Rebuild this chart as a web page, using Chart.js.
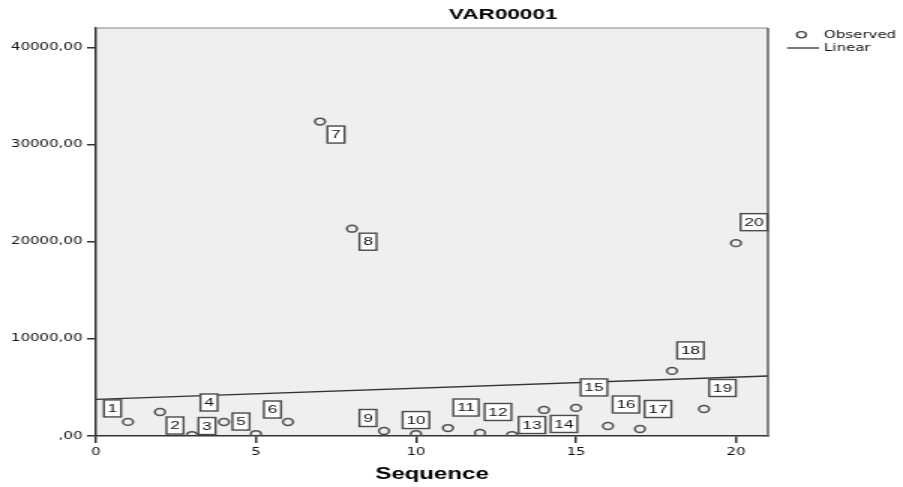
<!DOCTYPE html>
<html>
<head>
<meta charset="utf-8">
<script src="https://cdn.jsdelivr.net/npm/chart.js@4/dist/chart.umd.min.js"></script>
<style>
  html, body { margin: 0; padding: 0; background: #fff; overflow: hidden; }
  /* SPSS export is stretched horizontally, so draw narrow and scale up */
  #wrap { width: 602px; height: 487px; transform: scaleX(1.5); transform-origin: 0 0; }
</style>
</head>
<body>
<div id="wrap"><canvas id="VARCHART"></canvas></div>
<script>
var sequence = [1, 2, 3, 4, 5, 6, 7, 8, 9, 10, 11, 12, 13, 14, 15, 16, 17, 18, 19, 20];
var observed = [1450, 2470, 100, 1440, 200, 1440, 32370, 21340, 515, 200, 820, 310, 100, 2680, 2890, 1030, 720, 6700, 2780, 19850];
var caseLabels = ['1', '2', '3', '4', '5', '6', '7', '8', '9', '10', '11', '12', '13', '14', '15', '16', '17', '18', '19', '20'];
var xTicks = [0, 5, 10, 15, 20];
var yTicks = [0, 10000, 20000, 30000, 40000];

// where each case label box sits relative to its point (screen px)
var labelOffsets = [
    [-15.5, -13.5], [15, 13.5], [15, -9], [-15, -19.5], [-15, -12.5],
    [-15.5, -12.5], [16, 13], [16, 13], [-16, -13], [0, -14],
    [18, -20.5], [18, -21], [20, -10], [20, 14], [18, -20.5],
    [18, -21.5], [18, -20], [18.5, -20.5], [18.5, -21], [18, -21]
];
var STRETCH = 1.5;

// least squares line for the "Linear" model
var n = sequence.length, mx = 0, my = 0;
for (var i = 0; i < n; i++) { mx += sequence[i]; my += observed[i]; }
mx /= n; my /= n;
var sxy = 0, sxx = 0;
for (var i = 0; i < n; i++) { sxy += (sequence[i] - mx) * (observed[i] - my); sxx += (sequence[i] - mx) * (sequence[i] - mx); }
var slope = sxy / sxx, intercept = my - slope * mx;
var xMax = 21;

var points = sequence.map(function (s, i) { return { x: s, y: observed[i] }; });
var fitLine = [{ x: 0, y: intercept }, { x: xMax, y: intercept + slope * xMax }];

var spssDecor = {
    id: 'spssDecor',
    beforeDraw: function (chart) {
        var a = chart.chartArea, ctx = chart.ctx;
        ctx.save();
        ctx.fillStyle = '#efefef';
        ctx.fillRect(a.left, a.top, a.right - a.left, a.bottom - a.top);
        ctx.restore();
    },
    beforeDatasetsDraw: function (chart) {
        var a = chart.chartArea, ctx = chart.ctx;
        ctx.save();
        ctx.strokeStyle = '#888';
        ctx.lineWidth = 1.2;
        ctx.beginPath(); ctx.moveTo(a.left, a.top); ctx.lineTo(a.right, a.top); ctx.stroke();
        ctx.strokeStyle = '#666';
        ctx.lineWidth = 1.6;
        ctx.beginPath(); ctx.moveTo(a.right, a.top); ctx.lineTo(a.right, a.bottom + 0.7); ctx.stroke();
        ctx.restore();
    },
    afterDatasetsDraw: function (chart) {
        var ctx = chart.ctx, meta = chart.getDatasetMeta(0);
        ctx.save();
        ctx.font = '11.5px "Liberation Sans", Arial, sans-serif';
        ctx.textAlign = 'center';
        ctx.textBaseline = 'middle';
        meta.data.forEach(function (pt, i) {
            var off = labelOffsets[i];
            var cx = pt.x + off[0] / STRETCH, cy = pt.y + off[1];
            var w = ctx.measureText(caseLabels[i]).width + 5, h = 17;
            ctx.fillStyle = '#fff';
            ctx.fillRect(cx - w / 2, cy - h / 2, w, h);
            ctx.strokeStyle = '#4a4a4a';
            ctx.lineWidth = 1.4;
            ctx.strokeRect(cx - w / 2, cy - h / 2, w, h);
            ctx.fillStyle = '#111';
            ctx.fillText(caseLabels[i], cx, cy + 0.5);
        });
        ctx.restore();
    },
    afterDraw: function (chart) {
        var ctx = chart.ctx;
        ctx.save();
        // title
        ctx.font = 'bold 15px "Liberation Sans", Arial, sans-serif';
        ctx.fillStyle = '#000';
        ctx.textAlign = 'center';
        ctx.textBaseline = 'middle';
        ctx.fillText('VAR00001', 335.5, 15);
        // legend
        ctx.strokeStyle = '#444';
        ctx.lineWidth = 1.3;
        ctx.beginPath(); ctx.arc(534.3, 34.7, 3.1, 0, Math.PI * 2); ctx.stroke();
        ctx.strokeStyle = '#333';
        ctx.beginPath(); ctx.moveTo(524.7, 48); ctx.lineTo(546, 48); ctx.stroke();
        ctx.font = '10px "DejaVu Sans", sans-serif';
        ctx.fillStyle = '#111';
        ctx.textAlign = 'left';
        ctx.fillText('Observed', 549.3, 35);
        ctx.fillText('Linear', 549.3, 48);
        ctx.restore();
    }
};

var ctxVar = document.getElementById('VARCHART').getContext('2d');
var varChart = new Chart(ctxVar, {
    type: 'scatter',
    data: {
        datasets: [{
            label: 'Observed',
            data: points,
            showLine: false,
            pointRadius: 3.4,
            pointBorderWidth: 1.5,
            pointBorderColor: '#505050',
            pointBackgroundColor: 'rgba(0,0,0,0)'
        }, {
            label: 'Linear',
            data: fitLine,
            showLine: true,
            borderColor: '#333',
            borderWidth: 1.4,
            pointRadius: 0,
            fill: false
        }]
    },
    options: {
        responsive: true,
        maintainAspectRatio: false,
        devicePixelRatio: 1,
        animation: false,
        layout: { padding: { top: 28, right: 90, left: 0, bottom: 0 } },
        plugins: {
            legend: { display: false },
            title: { display: false },
            tooltip: { enabled: false }
        },
        scales: {
            x: {
                type: 'linear',
                min: 0,
                max: xMax,
                afterFit: function (s) { s.height = 51; },
                afterBuildTicks: function (s) { s.ticks = xTicks.map(function (v) { return { value: v }; }); },
                ticks: {
                    font: { family: '"DejaVu Sans", sans-serif', size: 10 },
                    color: '#111',
                    padding: 3,
                    maxRotation: 0
                },
                grid: { drawOnChartArea: false, drawTicks: true, tickLength: 7, color: '#333', lineWidth: 1.5 },
                border: { display: true, color: '#333', width: 1.5 },
                title: {
                    display: true,
                    text: 'Sequence',
                    color: '#000',
                    font: { family: '"Liberation Sans", Arial, sans-serif', size: 16, weight: 'bold' },
                    padding: { top: 0, bottom: 3 }
                }
            },
            y: {
                min: 0,
                max: 42000,
                afterFit: function (s) { s.width = 64; },
                afterBuildTicks: function (s) { s.ticks = yTicks.map(function (v) { return { value: v }; }); },
                ticks: {
                    font: { family: '"DejaVu Sans", sans-serif', size: 10 },
                    color: '#111',
                    padding: 3,
                    callback: function (v) { return v === 0 ? ',00' : v + ',00'; }
                },
                grid: { drawOnChartArea: false, drawTicks: true, tickLength: 6, color: '#333', lineWidth: 1.5 },
                border: { display: true, color: '#333', width: 1.5 }
            }
        }
    },
    plugins: [spssDecor]
});
</script>
</body>
</html>
